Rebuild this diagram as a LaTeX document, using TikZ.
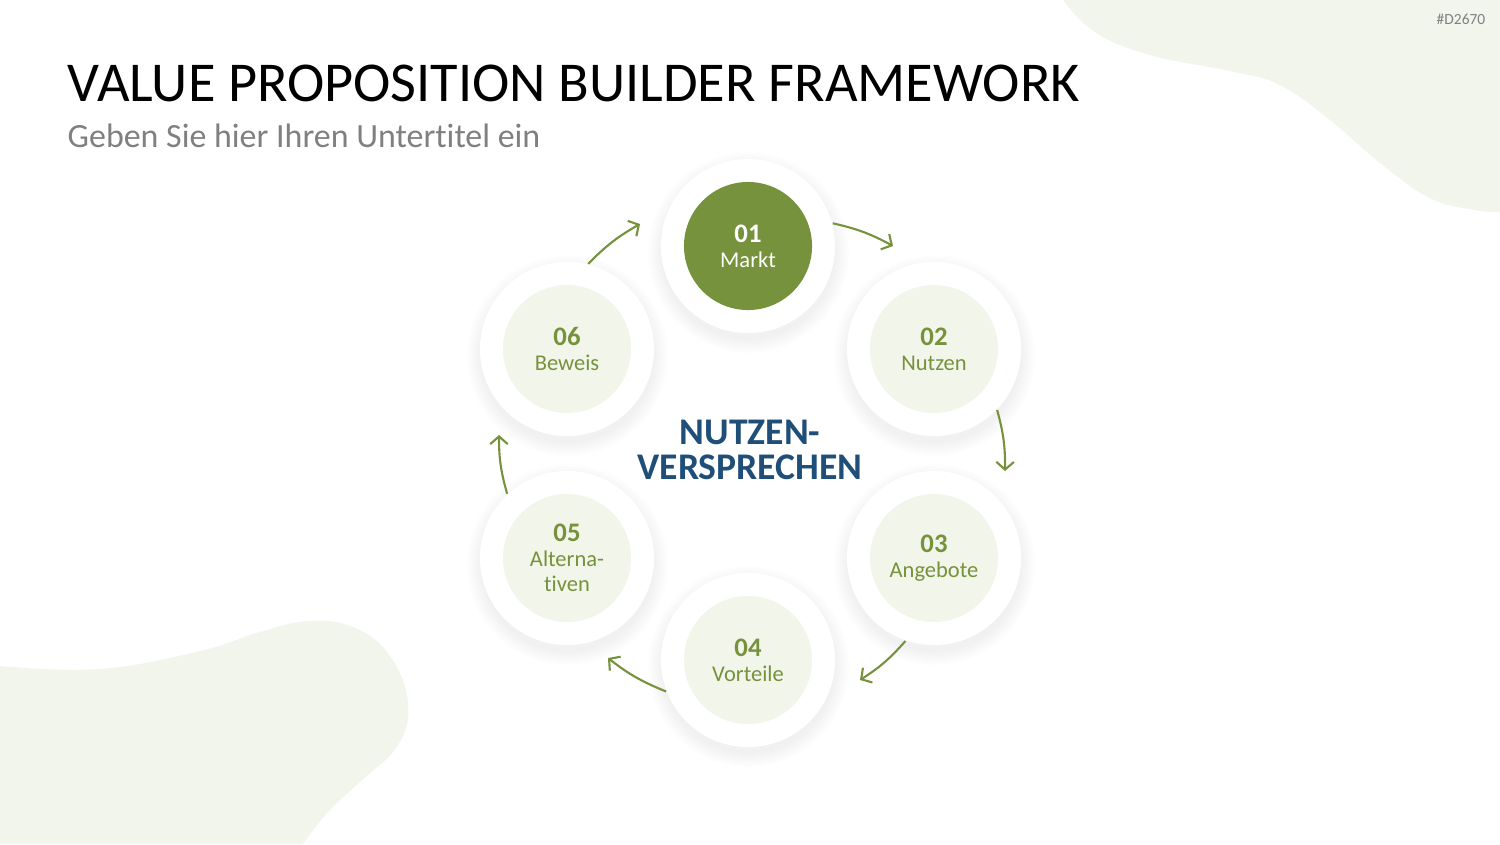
\documentclass[tikz,border=0pt]{standalone}
\usepackage{fontspec}
\setmainfont{Carlito}[Ligatures=NoCommon]
\usepackage{xcolor}
\usepackage{tikz}
\usetikzlibrary{arrows.meta, shadows, fadings}
\definecolor{leafColor}{RGB}{118,146,60}
\definecolor{paleColor}{RGB}{242,245,234}
\definecolor{blobColor}{RGB}{242,245,235}
\definecolor{inkColor}{RGB}{31,78,121}
\definecolor{greyColor}{RGB}{128,128,128}
\tikzstyle{ring} = [circle, minimum size=1.74cm, inner sep=0pt, fill=white, circular drop shadow={shadow xshift=0pt, shadow yshift=-1.5pt, shadow scale=1.16, opacity=0.11}]
\tikzstyle{core} = [circle, minimum size=1.28cm, inner sep=0pt, fill=paleColor, text=leafColor, align=center, font=\fontsize{6.4}{7.1}\selectfont]
\tikzstyle{arrow} = [line width=0.6pt, leafColor, -{Straight Barb[length=2.2pt,width=5pt]}]
\newcommand{\stepno}[1]{{\fontsize{7.6}{7.6}\selectfont\bfseries #1}}

\begin{document}
\begin{tikzpicture}[x=0.01cm, y=-0.01cm]
        \useasboundingbox (0,0) rectangle (1500,844);
        \fill[white] (0,0) rectangle (1500,844);

        % background shapes
        \fill[blobColor] plot[smooth, tension=0.7] coordinates {(1063,0) (1095,32) (1150,55) (1230,71) (1280,85) (1330,120) (1380,163) (1430,198) (1475,210) (1500,212)} -- (1500,0) -- cycle;
        \fill[blobColor] plot[smooth, tension=0.7] coordinates {(0,666) (100,669) (200,651) (260,632) (310,621) (355,628) (390,656) (408,703) (398,745) (362,780) (328,812) (303,844)} -- (0,844) -- cycle;

        \node (tag) [anchor=base east, inner sep=0pt, text=greyColor, font=\fontsize{4.4}{5}\selectfont] at (1486,24) {\#D2670};
        \node (title) [anchor=base west, inner sep=0pt, font=\fontsize{16}{19}\selectfont] at (67,101) {VALUE PROPOSITION BUILDER FRAMEWORK};
        \node (subtitle) [anchor=base west, inner sep=0pt, text=greyColor, font=\fontsize{9.65}{12}\selectfont] at (67,147) {Geben Sie hier Ihren Untertitel ein};

        \node (o1) [ring] at (748,246) {};
        \node (o2) [ring] at (934,349) {};
        \node (o3) [ring] at (934,558) {};
        \node (o4) [ring] at (748,660) {};
        \node (o5) [ring] at (567,558) {};
        \node (o6) [ring] at (567,349) {};

        \node (i1) [core, fill=leafColor, text=white] at (o1) {\stepno{01}\\Markt};
        \node (i2) [core] at (o2) {\stepno{02}\\Nutzen};
        \node (i3) [core] at (o3) {\stepno{03}\\Angebote};
        \node (i4) [core] at (o4) {\stepno{04}\\Vorteile};
        \node (i5) [core] at (o5) {\stepno{05}\\Alterna-\\tiven};
        \node (i6) [core] at (o6) {\stepno{06}\\Beweis};

        \node (hub) [align=center, text=inkColor, font=\fontsize{10.7}{9.9}\selectfont\bfseries] at (750,450) {NUTZEN-\\VERSPRECHEN};

        \coordinate (e12) at (893,246);
        \coordinate (e23) at (1005,471);
        \coordinate (e34) at (860,680);
        \coordinate (e45) at (608,658);
        \coordinate (e56) at (499,435);
        \coordinate (e61) at (640,224);

        \draw [arrow] (o1.15) to[bend left=8] (e12);
        \draw [arrow] (o2.-44) to[bend left=8] (e23);
        \draw [arrow] (o3.-109) to[bend left=8] (e34);
        \draw [arrow] (o4.201) to[bend left=8] (e45);
        \draw [arrow] (o5.133) to[bend left=8] (e56);
        \draw [arrow] (o6.76) to[bend left=8] (e61);
    \end{tikzpicture}
\end{document}
